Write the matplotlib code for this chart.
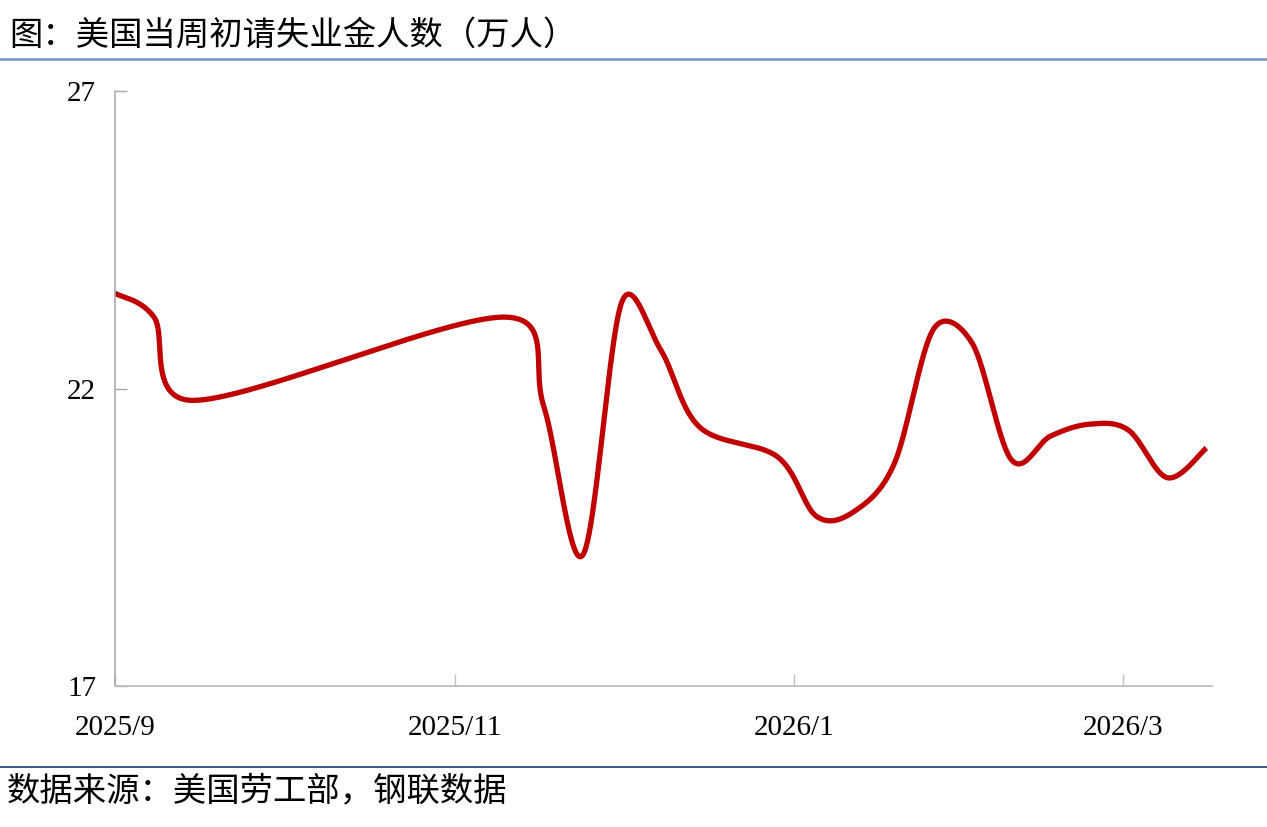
import numpy as np
import matplotlib
matplotlib.use('Agg')
import matplotlib.pyplot as plt
import matplotlib.dates as mdates
from matplotlib.lines import Line2D
from datetime import date

# 周度数据（万人），部分周缺失
week_dates = [
    date(2025, 9, 6), date(2025, 9, 13), date(2025, 9, 20),
    date(2025, 11, 15), date(2025, 11, 22), date(2025, 11, 29),
    date(2025, 12, 6), date(2025, 12, 13), date(2025, 12, 20),
    date(2026, 1, 3), date(2026, 1, 10), date(2026, 1, 17), date(2026, 1, 24),
    date(2026, 1, 31), date(2026, 2, 7), date(2026, 2, 14), date(2026, 2, 21),
    date(2026, 2, 28), date(2026, 3, 7), date(2026, 3, 14), date(2026, 3, 21),
]
claims = [23.6, 23.2, 21.8, 23.2, 21.7, 19.2, 23.45, 22.65, 21.35,
          20.85, 19.85, 19.95, 20.75, 23.0, 22.75, 20.8, 21.2, 21.4, 21.3,
          20.5, 21.0]

x_ticks = [date(2025, 9, 6), date(2025, 11, 6), date(2026, 1, 6), date(2026, 3, 6)]
x_ticklabels = ['2025/9', '2025/11', '2026/1', '2026/3']
y_ticks = [17, 22, 27]

title = '图：美国当周初请失业金人数（万人）'
source = '数据来源：美国劳工部，钢联数据'


def smooth_line(pts, n=80):
    """Excel风格平滑线：屏幕坐标下的三次贝塞尔，控制点长度有上限"""
    p = np.vstack([pts[0], pts, pts[-1]])
    out = []
    t = np.linspace(0, 1, n)[:, None]
    for i in range(1, len(p) - 2):
        p0, p1, p2, p3 = p[i - 1], p[i], p[i + 1], p[i + 2]
        d12 = np.hypot(*(p2 - p1))
        d02 = np.hypot(*(p2 - p0))
        d13 = np.hypot(*(p3 - p1))
        f1 = 1 / 6 if d02 / 6 < d12 / 2 else d12 / (2 * d02)
        f2 = 1 / 6 if d13 / 6 < d12 / 2 else d12 / (2 * d13)
        c1 = p1 + (p2 - p0) * f1
        c2 = p2 - (p3 - p1) * f2
        b = (1 - t) ** 3 * p1 + 3 * (1 - t) ** 2 * t * c1 + 3 * (1 - t) * t ** 2 * c2 + t ** 3 * p2
        out.append(b)
    return np.vstack(out)


W, H = 1267, 827
fig = plt.figure(figsize=(W / 100, H / 100), dpi=100)
fig.patch.set_facecolor('white')

ax = fig.add_axes([115 / W, (H - 686) / H, (1212 - 115) / W, (686 - 91) / H])
ax.set_xlim(mdates.date2num(date(2025, 9, 6)), mdates.date2num(date(2026, 3, 22)))
ax.set_ylim(17, 27)

# 在屏幕坐标中平滑，再换回数据坐标
xnum = mdates.date2num(week_dates)
disp = ax.transData.transform(np.column_stack([xnum, claims]))
curve = ax.transData.inverted().transform(smooth_line(disp))
ax.plot(curve[:, 0], curve[:, 1], color='#c00000', lw=3.8,
        solid_capstyle='butt', solid_joinstyle='round')

ax.set_xticks(mdates.date2num(x_ticks))
ax.set_xticklabels(x_ticklabels)
ax.set_yticks(y_ticks)
ax.set_yticklabels([str(v) for v in y_ticks])

for s in ['top', 'right']:
    ax.spines[s].set_visible(False)
ax.spines['left'].set_color('#a6a6a6')
ax.spines['bottom'].set_color('#bfbfbf')
ax.spines['left'].set_linewidth(1.1)
ax.spines['bottom'].set_linewidth(1.3)

ax.tick_params(axis='y', direction='in', length=8.6, width=1.0, color='#a6a6a6', pad=13.5)
ax.tick_params(axis='x', direction='in', length=8.6, width=1.0, color='#bfbfbf', pad=21)
for lab in ax.get_xticklabels() + ax.get_yticklabels():
    lab.set_fontfamily(['Liberation Serif', 'DejaVu Serif'])
    lab.set_fontsize(21)
    lab.set_color('black')

cjk = ['Noto Sans CJK SC', 'DejaVu Sans']
fig.text(9 / W, 1 - 35 / H, title, fontsize=24, family=cjk, ha='left', va='center', color='black')
fig.text(7 / W, 1 - 791 / H, source, fontsize=24, family=cjk, ha='left', va='center', color='black')

fig.add_artist(Line2D([0, 1], [1 - 59 / H, 1 - 59 / H], color='#7a92c2', lw=1.8))
fig.add_artist(Line2D([0, 1], [1 - 767 / H, 1 - 767 / H], color='#2c4a86', lw=1.3))

fig.savefig('out.png', dpi=100, facecolor='white')
